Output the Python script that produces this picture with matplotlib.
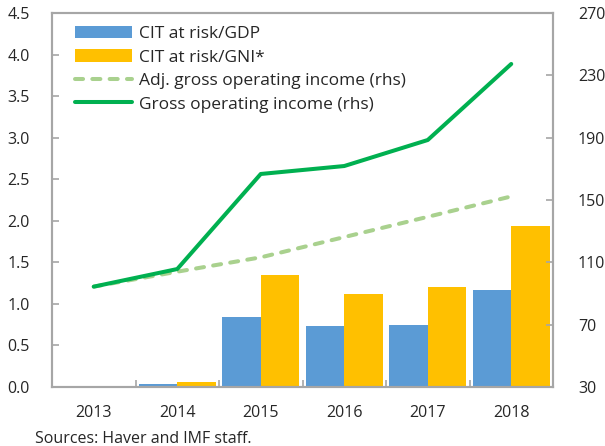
"""
CIT at risk vs gross operating income, 2013-2018
"""

import numpy as np
import matplotlib
matplotlib.use('Agg')
import matplotlib.pyplot as plt

# Data
years = ['2013', '2014', '2015', '2016', '2017', '2018']
cit_gdp = [0.0, 0.04, 0.84, 0.73, 0.74, 1.17]
cit_gni = [0.0, 0.06, 1.35, 1.12, 1.20, 1.94]
adj_goi = [94.4, 104.0, 113.2, 126.2, 139.2, 152.3]
goi = [94.4, 105.7, 166.7, 171.8, 188.5, 237.3]

plt.rcParams['font.family'] = ['Open Sans', 'DejaVu Sans']

spine_col = '#A6A6A6'
text_col = '#262626'

fig = plt.figure(figsize=(6.05, 4.46), dpi=100)
ax = fig.add_axes([52 / 605, 1 - 387 / 446, 501 / 605, 374 / 446])
ax2 = ax.twinx()

x = np.arange(len(years))
w = 0.46
b1 = ax.bar(x - w / 2, cit_gdp, w, color='#5B9BD5', label='CIT at risk/GDP', zorder=2)
b2 = ax.bar(x + w / 2, cit_gni, w, color='#FFC000', label='CIT at risk/GNI*', zorder=2)

l1, = ax2.plot(x, adj_goi, color='#A9D18E', lw=2.9, ls=(0, (2.0, 2.3)),
               dash_capstyle='round', label='Adj. gross operating income (rhs)')
l2, = ax2.plot(x, goi, color='#00B050', lw=2.9, solid_capstyle='round',
               label='Gross operating income (rhs)')

ax.set_xlim(-0.5, len(years) - 0.5)
ax.set_ylim(0, 4.5)
ax.set_yticks(np.arange(0, 4.51, 0.5))
ax.set_yticklabels([f'{v:.1f}' for v in np.arange(0, 4.51, 0.5)])
ax2.set_ylim(30, 270)
ax2.set_yticks(range(30, 271, 40))

# category ticks sit on the boundaries, labels in the middle
ax.set_xticks(np.arange(-0.5, len(years) - 0.4, 1.0))
ax.set_xticklabels([])
ax.set_xticks(x, minor=True)
ax.set_xticklabels(years, minor=True)
ax.tick_params(axis='x', which='minor', length=0, pad=13, labelsize=11.5, labelcolor=text_col)
ax.tick_params(axis='x', which='major', direction='in', length=5, color=spine_col, width=1.2)
ax.tick_params(axis='y', direction='in', length=5, color=spine_col, width=1.2,
               pad=16, labelsize=11.5, labelcolor=text_col)
ax2.tick_params(axis='y', direction='in', length=5, color=spine_col, width=1.2,
                pad=18, labelsize=11.5, labelcolor=text_col)

for a in (ax, ax2):
    for s in a.spines.values():
        s.set_color(spine_col)
        s.set_linewidth(1.5)

leg = ax.legend(handles=[b1, b2, l1, l2], loc='upper left', frameon=False,
                bbox_to_anchor=(0.02, 1.0), fontsize=12.5, handlelength=3.3,
                handletextpad=0.4, labelspacing=0.42, borderaxespad=0.35)
for t in leg.get_texts():
    t.set_color(text_col)

fig.text(35 / 605, 1 - 439 / 446, 'Sources: Haver and IMF staff.', fontsize=11.5,
         color=text_col, va='center', ha='left')

fig.savefig('out.png', dpi=100)
